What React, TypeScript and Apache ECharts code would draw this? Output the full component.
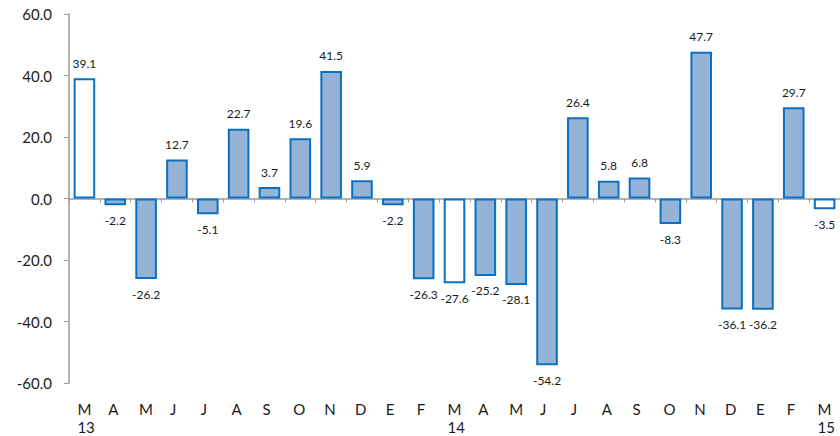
import React, { useEffect, useRef } from "react";
import * as echarts from "echarts";

const months = ["M", "A", "M", "J", "J", "A", "S", "O", "N", "D", "E", "F", "M", "A", "M", "J", "J", "A", "S", "O", "N", "D", "E", "F", "M"];
const yearLabels: Record<number, string> = { 0: "13", 12: "14", 24: "15" };
const values = [39.1, -2.2, -26.2, 12.7, -5.1, 22.7, 3.7, 19.6, 41.5, 5.9, -2.2, -26.3, -27.6, -25.2, -28.1, -54.2, 26.4, 5.8, 6.8, -8.3, 47.7, -36.1, -36.2, 29.7, -3.5];
const hollowIdx = [0, 12, 24];

const FONT = "Lato, 'Liberation Sans', sans-serif";
const BORDER = "#0a70c4";
const FILL = "#95b3d7";

export default function App() {
  const ref = useRef<HTMLDivElement>(null);
  useEffect(() => {
    if (!ref.current) return;
    const chart = echarts.init(ref.current, null, { renderer: "svg" });
    const cats = months.map((m, i) => (yearLabels[i] ? m + "\n" + yearLabels[i] : m));
    chart.setOption({
      animation: false,
      grid: { left: 69, top: 14, bottom: 50, width: 775, containLabel: false },
      xAxis: [
        {
          type: "category",
          data: cats,
          axisLine: { onZero: true, lineStyle: { color: "#9a9a9a", width: 1.5 } },
          axisTick: { show: true, length: 4, lineStyle: { color: "#9a9a9a" } },
          axisLabel: { show: false },
          splitLine: { show: false },
        },
        {
          type: "category",
          data: cats,
          position: "bottom",
          axisLine: { show: false, onZero: false },
          axisTick: { show: false },
          axisLabel: {
            show: true,
            margin: 17,
            color: "#1a1a1a",
            fontFamily: FONT,
            fontSize: 15,
            lineHeight: 18,
            align: "left",
            padding: [0, 0, 0, -7],
          },
        },
      ],
      yAxis: {
        type: "value",
        min: -60,
        max: 60,
        interval: 20,
        axisLine: { show: true, lineStyle: { color: "#9a9a9a", width: 1.5 } },
        axisTick: { show: true, length: 5, lineStyle: { color: "#9a9a9a" } },
        splitLine: { show: false },
        axisLabel: {
          margin: 17,
          color: "#1a1a1a",
          fontFamily: FONT,
          fontSize: 15,
          formatter: (v: number) => v.toFixed(1),
        },
      },
      series: [
        {
          type: "bar",
          xAxisIndex: 0,
          barCategoryGap: "30%",
          data: values.map((v, i) => ({
            value: v,
            itemStyle: {
              color: hollowIdx.includes(i) ? "#ffffff" : FILL,
              borderColor: BORDER,
              borderWidth: 2,
            },
            label: { position: v >= 0 ? "top" : "bottom" },
          })),
          label: {
            show: true,
            distance: 9,
            color: "#1a1a1a",
            fontFamily: FONT,
            fontSize: 12,
            formatter: (p: any) => p.value.toFixed(1),
          },
        },
      ],
    });
    return () => chart.dispose();
  }, []);
  return <div ref={ref} style={{ width: 840, height: 436, position: "absolute", left: 0, top: 0 }} />;
}
